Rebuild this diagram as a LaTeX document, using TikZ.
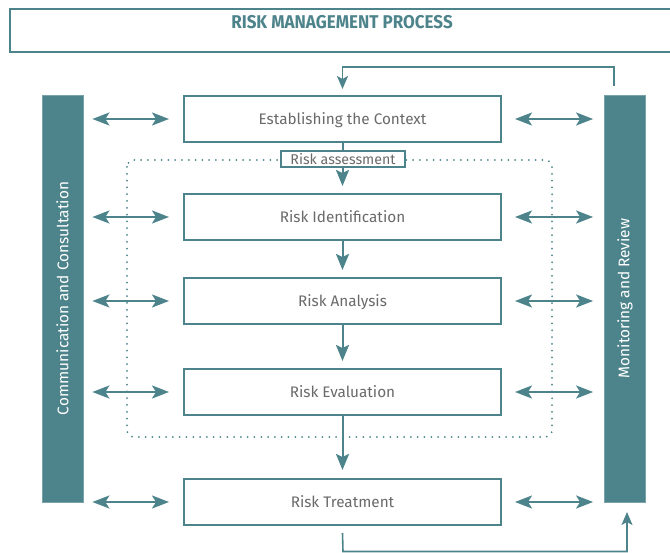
\documentclass[tikz,border=0pt]{standalone}
\usepackage{fontspec}
\setmainfont{Fira Sans}
\usetikzlibrary{arrows.meta}
\definecolor{rmteal}{HTML}{4D848B}
\definecolor{txtgray}{HTML}{6A6A6A}
\begin{document}
\begin{tikzpicture}[x=1pt,y=-1pt,
  stepbox/.style={draw=rmteal, line width=2pt, fill=white, minimum width=317pt,
    minimum height=46pt, inner sep=0pt, text depth=0pt, text=txtgray,
    font=\fontsize{15.3}{17}\selectfont},
  sidebar/.style={fill=rmteal, draw=rmteal!75, line width=0.8pt, minimum width=41pt,
    minimum height=407pt, inner sep=0pt, text=white, font=\fontsize{15.4}{17}\selectfont},
  dbl/.style={rmteal, line width=2.2pt,
    {Stealth[length=17pt,width=13pt,inset=4pt]}-{Stealth[length=17pt,width=13pt,inset=4pt]}},
  flow/.style={rmteal, line width=2pt, -{Stealth[length=16pt,width=13pt,inset=3pt]}},
  feedback/.style={rmteal, line width=1.6pt, -{Stealth[length=13pt,width=11pt,inset=3pt]}},
  zone/.style={rmteal, line width=2pt, line cap=round, dash pattern=on 0pt off 6.8pt, rounded corners=7pt}
]
\useasboundingbox (0,0) rectangle (670,553);

% title banner
\node[draw=rmteal, line width=1.8pt, minimum width=670pt, minimum height=43pt,
  anchor=north west, inner sep=0pt] (banner) at (9,8) {};
\node[text=rmteal, font=\fontsize{18.5}{20}\bfseries\selectfont] (title) at (342,22)
  {\scalebox{0.92}[1]{RISK MANAGEMENT PROCESS}};

% risk assessment zone
\draw[zone] (127,160) rectangle (552,437);

% process steps
\node[stepbox] (ctx) at (342.5,119) {Establishing the Context};
\node[stepbox] (rid) at (342.5,217) {Risk Identification};
\node[stepbox] (ran) at (342.5,301) {Risk Analysis};
\node[stepbox] (rev) at (342.5,392) {Risk Evaluation};
\node[stepbox] (rt)  at (342.5,502) {Risk Treatment};

% side bars
\node[sidebar] (cc) at (62.5,298.5) {\rotatebox{90}{Communication and Consultation}};
\node[sidebar] (mr) at (625,298.5) {\rotatebox{90}{Monitoring and Review}};

% main flow
\draw[flow, shorten >=7pt] (ctx.south) -- (rid.north);
\draw[flow, shorten >=7pt] (rid.south) -- (ran.north);
\draw[flow, shorten >=7pt] (ran.south) -- (rev.north);
\draw[flow, shorten >=8pt] (rev.south) -- (rt.north);

% zone label
\node[draw=rmteal, line width=1.6pt, fill=white, text=txtgray, inner sep=1pt,
  minimum width=124pt, minimum height=16pt, text depth=0pt,
  font=\fontsize{14.2}{15}\selectfont]
  (ra) at (343,159) {Risk assessment};

% communication links
\foreach \s in {ctx,rid,ran,rev,rt}{
  \draw[dbl, shorten <=9pt, shorten >=14pt] (cc.east |- \s.west) -- (\s.west);
  \draw[dbl, shorten <=13pt, shorten >=11pt] (\s.east) -- (mr.west |- \s.east);
}

% feedback loops
\coordinate (topstart) at (614,86);
\draw[feedback] (topstart) -- (614,67) -| ([yshift=6pt]ctx.north);
\coordinate (botend) at (627,512);
\draw[feedback] ([yshift=-7pt]rt.south) -- (343,551.5) -| (botend);
\end{tikzpicture}
\end{document}
